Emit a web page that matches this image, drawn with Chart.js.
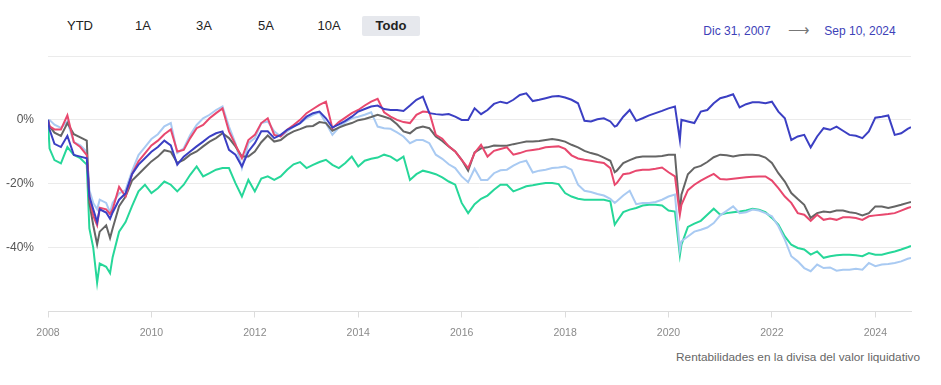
<!DOCTYPE html>
<html>
<head>
<meta charset="utf-8">
<script src="https://cdn.jsdelivr.net/npm/chart.js@4.4.1/dist/chart.umd.min.js"></script>
<style>
  body { margin: 0; background: #fff; font-family: "Liberation Sans", Arial, sans-serif; }
  #wrap { position: relative; width: 941px; height: 385px; overflow: hidden; }
  .btn { position: absolute; top: 16px; height: 20px; line-height: 20px; font-size: 13px; color: #222;
         text-align: center; transform: translateX(-50%); white-space: nowrap; }
  .btn.active { background: #e6e8ed; font-weight: bold; width: 58px; border-radius: 2px; }
  .date { position: absolute; top: 24px; font-size: 12px; line-height: 15px; color: #3d41b8; transform: translateX(-50%); white-space: nowrap; }
  .arrow { position: absolute; top: 21px; font-size: 15px; line-height: 18px; color: #777; transform: translateX(-50%); }
  #caption { position: absolute; right: 21px; top: 350px; font-size: 11.8px; color: #666; white-space: nowrap; }
  #chartBox { position: absolute; left: 0; top: 0; width: 941px; height: 345px; }
</style>
</head>
<body>
<div id="wrap">
  <div class="btn" style="left:80px">YTD</div>
  <div class="btn" style="left:143px">1A</div>
  <div class="btn" style="left:204px">3A</div>
  <div class="btn" style="left:266px">5A</div>
  <div class="btn" style="left:329px">10A</div>
  <div class="btn active" style="left:391px">Todo</div>

  <div class="date" style="left:737px">Dic 31, 2007</div>
  <div class="arrow" style="left:799px">&#10230;</div>
  <div class="date" style="left:860px">Sep 10, 2024</div>

  <div id="chartBox"><canvas id="perfChart"></canvas></div>
  <div id="caption">Rentabilidades en la divisa del valor liquidativo</div>
</div>

<script>
// sample dates (decimal years)
const dates = [
  2008.0, 2008.03, 2008.125, 2008.25, 2008.375, 2008.5, 2008.625, 2008.75, 2008.8, 2008.875,
  2008.95, 2009.0, 2009.125, 2009.2, 2009.25, 2009.375, 2009.5, 2009.625, 2009.75, 2009.875,
  2010.0, 2010.125, 2010.25, 2010.375, 2010.5, 2010.625, 2010.75, 2010.875,
  2011.0, 2011.125, 2011.25, 2011.375, 2011.5, 2011.625, 2011.75, 2011.875,
  2012.0, 2012.125, 2012.25, 2012.375, 2012.5, 2012.625, 2012.75, 2012.875,
  2013.0, 2013.125, 2013.25, 2013.375, 2013.5, 2013.625, 2013.75, 2013.875,
  2014.0, 2014.125, 2014.25, 2014.375, 2014.5, 2014.625, 2014.75, 2014.875,
  2015.0, 2015.125, 2015.25, 2015.375, 2015.5, 2015.625, 2015.75, 2015.875,
  2016.0, 2016.125, 2016.25, 2016.375, 2016.5, 2016.625, 2016.75, 2016.875,
  2017.0, 2017.125, 2017.25, 2017.375, 2017.5, 2017.625, 2017.75, 2017.875,
  2018.0, 2018.125, 2018.25, 2018.375, 2018.5, 2018.625, 2018.75, 2018.875, 2018.96,
  2019.0, 2019.125, 2019.25, 2019.375, 2019.5, 2019.625, 2019.75, 2019.875,
  2020.0, 2020.125, 2020.22, 2020.25, 2020.375, 2020.5, 2020.625, 2020.75, 2020.875,
  2021.0, 2021.125, 2021.25, 2021.375, 2021.5, 2021.625, 2021.75, 2021.875,
  2022.0, 2022.125, 2022.25, 2022.375, 2022.5, 2022.625, 2022.75, 2022.875,
  2023.0, 2023.125, 2023.25, 2023.375, 2023.5, 2023.625, 2023.75, 2023.875,
  2024.0, 2024.125, 2024.25, 2024.375, 2024.5, 2024.625, 2024.69
];

const blueSeries = [
  0, -3, -7.5, -8.5, -5, -11, -11.5, -12, -24, -28, -32, -28, -29, -31, -29, -25, -23, -17, -14, -12,
  -10, -8.5, -6.5, -8, -14, -11.5, -9.9, -8.3, -6.8, -5.2, -4.2, -3.6, -9.4, -10.9, -14.6, -9.9,
  -7.3, -3.6, -3.6, -5.7, -4.7, -3.1, -2.1, -1, 1, 2.1, 2.6, 0.5, -2.4, -1.4, -0.3, 1,
  2.6, 3.4, 4.2, 4.5, 3.4, 3.1, 3.1, 2.8, 4.5, 6.3, 7.3, 2.1, 1.8, 1.6, 1.8, 1,
  0, 0, 3.6, 1.8, 3.1, 5, 5.7, 5.2, 6.3, 7.8, 8.3, 5.9, 6.3, 6.8, 7.3, 7.5,
  7, 6.3, 5.2, -0.3, -0.5, 0.2, 0.5, -0.5, -2.1, -1.8, 1, 3.1, -0.3, 0.5, 1.4, 2.1, 2.8,
  3.6, 4.2, -6.3, 0, -0.5, -1, 2.6, 3.1, 5.2, 6.8, 7.3, 8, 3.9, 4.9, 5.5, 5.5, 5.2,
  5.7, 2.6, 0.5, -6.3, -5.2, -4.7, -8.6, -5.2, -2.6, -3.1, -2.1, -3.4, -4.7, -5, -5.7, -3.6,
  0.7, 1, 1.4, -4.7, -4.2, -2.8, -2.3
];

const redSeries = [
  0, -2, -3, -3, 1.4, -7, -8.5, -11, -24, -30, -33, -27.5, -28, -29.5, -28, -21, -24, -17, -13, -10.5,
  -8, -6.5, -4.5, -3, -9.9, -9.4, -5.7, -2.6, -1.6, 0.5, 2.1, 3.6, -3.6, -7.8, -12, -6.3,
  -4.7, -1, 0.5, -4.7, -5.2, -3.1, -1.6, 0, 2.1, 3.4, 4.7, 5.7, -2.6, -0.7, 0.7, 2.1,
  3.1, 4.5, 5.7, 6.6, 2.4, 1, 0, -0.7, -1, 1.6, 2.6, 2.4, -4.7, -5.9, -8.3, -9.9,
  -12.5, -15.1, -10.4, -7.8, -11.5, -9.7, -9.1, -8.6, -10.9, -10.4, -9.7, -9.4, -9.1, -8.6, -8.4, -8.3,
  -9.1, -11.1, -12.1, -12.5, -12.8, -13.2, -13.5, -15.1, -20.3, -19.8, -17, -16.7, -15.9, -15.6, -15.6, -15.3, -14.9,
  -16.4, -17.7, -29.7, -26.6, -22, -20.3, -19, -17.9, -16.9, -18.5, -18.7, -18.4, -18.2, -18, -17.8, -17.7, -17.7,
  -19, -21.4, -24, -26, -29.2, -29.7, -31.6, -29.7, -31.3, -30.9, -31.3, -30.5, -30.5, -30.7, -31.3, -30.2,
  -29.9, -29.7, -29.5, -29.2, -28.4, -27.6, -27.3
];

const greySeries = [
  0, -2, -4, -5, -1, -4.5, -5.5, -6.5, -26, -33, -39, -35, -33, -37, -34, -27, -24, -19, -17, -15,
  -13, -11.5, -9.5, -10, -13.5, -12.5, -10.9, -9.9, -8.3, -6.8, -5.7, -4.2, -5.7, -8.3, -11.5, -11.5,
  -9.9, -7, -4.9, -6.8, -6.3, -4.7, -3.6, -2.9, -2.1, -1.9, -0.7, -1, -3.4, -2.4, -1.6, -1,
  -0.1, 0.3, 0.9, 1.6, 1, 0.3, -1.4, -3.6, -4.2, -2.6, -2.1, -2.6, -5.2, -6.6, -8.3, -9.9,
  -12.5, -15.9, -10.2, -8.9, -8.6, -8, -8.1, -8.1, -7.6, -7.2, -6.8, -6.8, -6.6, -6.3, -6, -6.3,
  -6.8, -7.8, -8.6, -9.7, -10.4, -10.9, -11.8, -12.8, -16.4, -15.9, -13.5, -12.6, -11.8, -11.5, -11.5, -11.5, -11.3,
  -10.9, -10.9, -29.2, -23.4, -17, -15, -14.4, -13.2, -11.7, -10.9, -11.1, -11.5, -11.1, -10.9, -10.9, -11.1, -11.8,
  -13.5, -16.7, -19.3, -22.9, -24.8, -26.6, -30.7, -29.2, -28.7, -28.9, -28.4, -28.4, -28.9, -29.2, -29.9, -29.2,
  -27.1, -27.1, -27.6, -27.1, -26.6, -26, -25.7
];

const lightBlueSeries = [
  0, 0, -1.5, -2.5, -0.5, -7, -8, -10, -22, -26, -28, -25, -26, -29, -26, -23, -22, -16, -11, -8.5,
  -6, -4.5, -2, -1, -10.4, -8.9, -4.7, -1.6, 0.5, 1.6, 3.1, 4.2, -2.1, -7.3, -15.1, -7.3,
  -5.7, -1, -0.5, -3.6, -5.2, -3.6, -2.1, -1, 0.5, 1.6, 2.4, -1, -4.7, -2.4, -0.7, 0.5,
  1, 1.6, 2.4, -2.1, -2.6, -2.8, -3.9, -5.2, -7.3, -6.3, -6.3, -7.3, -10.9, -12.2, -13.9, -15.1,
  -17.7, -19.5, -15.3, -18.8, -18.8, -16.7, -15.8, -15.6, -14.3, -13.3, -12.8, -16.5, -15.9, -15.6, -15.1, -14.9,
  -14.6, -15.6, -20.3, -22.2, -22.6, -23.2, -23.7, -24.7, -26, -25.5, -23.7, -22.2, -26.4, -26, -26, -25.7, -25,
  -24, -23.4, -40.6, -38, -36.5, -35, -34.4, -33.7, -32.3, -29.9, -28.5, -27.1, -29.2, -28.9, -28.1, -28.4, -29.2,
  -30.2, -33.3, -37.5, -42.7, -44.3, -46.4, -47.4, -45.3, -46.4, -46.2, -47.2, -46.9, -46.9, -46.6, -46.9, -44.8,
  -45.8, -45.3, -45.1, -44.8, -44.3, -43.5, -43.2
];

const greenSeries = [
  0, -9, -12.6, -13.6, -8.5, -11, -12, -14, -34, -40, -51, -45, -46, -48, -43, -35, -32, -27, -22.4, -20.3,
  -22.9, -21.4, -19.3, -20.3, -22.4, -20.3, -17.2, -14.6, -17.7, -16.7, -15.6, -15.1, -15.1, -19.8, -24, -18.8,
  -22.4, -18.4, -17.7, -18.8, -17.7, -15.6, -13.9, -13.2, -15.1, -14.1, -13.2, -12.5, -14.1, -15.1, -13.5, -11.5,
  -14.6, -12.8, -12.2, -11.8, -10.9, -11.5, -12.8, -11.5, -18.8, -17, -15.9, -16.4, -17, -18, -19.3, -20.3,
  -26, -29.2, -26.4, -24.7, -23.7, -21.9, -20.3, -20.3, -22.4, -21.6, -20.8, -20.5, -20.1, -19.8, -19.8, -20.1,
  -22.9, -24, -24.7, -25, -25, -25, -25, -25.5, -32.8, -31.8, -28.9, -28.1, -27.6, -26.8, -26.6, -26.6, -26.8,
  -28.4, -28.7, -42.4, -39.1, -33.5, -32.5, -31.6, -29.7, -27.8, -29.7, -29.2, -28.9, -28.7, -28.4, -27.8, -28.1, -28.9,
  -30.7, -32.8, -36.5, -39.1, -40.1, -40.6, -42.2, -41.2, -43.2, -42.7, -42.4, -42.2, -42.2, -42.4, -42.7, -41.7,
  -42.2, -42.2, -41.7, -41.2, -40.6, -39.9, -39.5
];

const xTickYears = [2008, 2010, 2012, 2014, 2016, 2018, 2020, 2022, 2024];
const yTickLabels = { 0: '0%', '-20': '-20%', '-40': '-40%' };

function toPoints(values) {
  return dates.map((d, i) => ({ x: d, y: values[i] }));
}

function makeSet(values, color) {
  return {
    data: toPoints(values),
    borderColor: color,
    backgroundColor: color,
    borderWidth: 2,
    pointRadius: 0,
    tension: 0,
    fill: false
  };
}

new Chart(document.getElementById('perfChart'), {
  type: 'line',
  data: {
    datasets: [
      makeSet(blueSeries, '#3b3fc3'),
      makeSet(redSeries, '#e8486e'),
      makeSet(greySeries, '#656565'),
      makeSet(lightBlueSeries, '#a9caf2'),
      makeSet(greenSeries, '#26d799')
    ]
  },
  options: {
    responsive: true,
    maintainAspectRatio: false,
    animation: false,
    layout: { padding: { top: 56, right: 30, left: 0, bottom: 0 } },
    plugins: { legend: { display: false }, tooltip: { enabled: false } },
    scales: {
      x: {
        type: 'linear',
        min: 2008,
        max: 2024.69,
        afterFit: function(scale) { scale.height = 33.5; },
        afterBuildTicks: function(scale) {
          scale.ticks = xTickYears.map(v => ({ value: v }));
        },
        grid: { drawOnChartArea: false, drawTicks: true, tickLength: 6, color: '#dcdcdc' },
        border: { color: '#dcdcdc' },
        ticks: {
          color: '#8a8a8a',
          font: { family: '"Liberation Sans", Arial, sans-serif', size: 10.5 },
          padding: 9,
          maxRotation: 0,
          autoSkip: false,
          callback: function(value) { return String(value); }
        }
      },
      y: {
        min: -60,
        max: 20,
        afterFit: function(scale) { scale.width = 48; },
        grid: { color: '#ebebeb', drawTicks: false },
        border: { display: false },
        ticks: {
          stepSize: 20,
          color: '#555',
          font: { family: '"Liberation Sans", Arial, sans-serif', size: 12 },
          padding: 14,
          callback: function(value) { return yTickLabels[value] || ''; }
        }
      }
    }
  }
});
</script>
</body>
</html>
